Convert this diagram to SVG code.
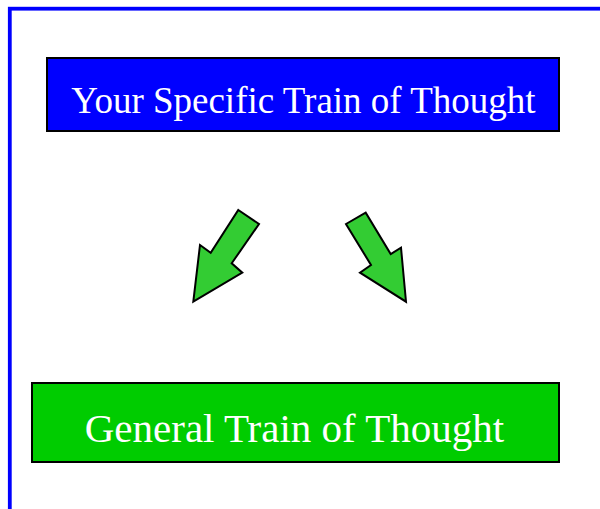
<svg xmlns="http://www.w3.org/2000/svg" width="600" height="509" viewBox="0 0 600 509">
<style>
.box{stroke:#000;stroke-width:2}
.lbl{font-family:"Liberation Serif","Times New Roman",serif;fill:#fff;text-anchor:middle}
.arrow{fill:#33cc33;stroke:#000;stroke-width:2;stroke-linejoin:miter}
</style>
<rect x="0" y="0" width="600" height="509" fill="#fff"/>
<rect x="9.8" y="8.7" width="700" height="700" fill="none" stroke="#0000ff" stroke-width="3.8"/>
<g id="specific">
<rect class="box" x="47" y="58" width="512" height="73" fill="#0000ff"/>
<text class="lbl" x="303.5" y="112.5" font-size="37">Your Specific Train of Thought</text>
</g>
<g id="general">
<rect class="box" x="32" y="383" width="527" height="79" fill="#00cc00"/>
<text class="lbl" x="294.5" y="442" font-size="41">General Train of Thought</text>
</g>
<g id="connectors">
<polygon class="arrow" points="238.3,210 259,224 231.7,263.3 242.3,272.7 193.3,301.7 200,245 210.7,252.7"/>
<polygon class="arrow" points="346,224 365.7,212.7 390.7,254 401,247.7 406,301.7 360,272.7 371,265"/>
</g>
</svg>
